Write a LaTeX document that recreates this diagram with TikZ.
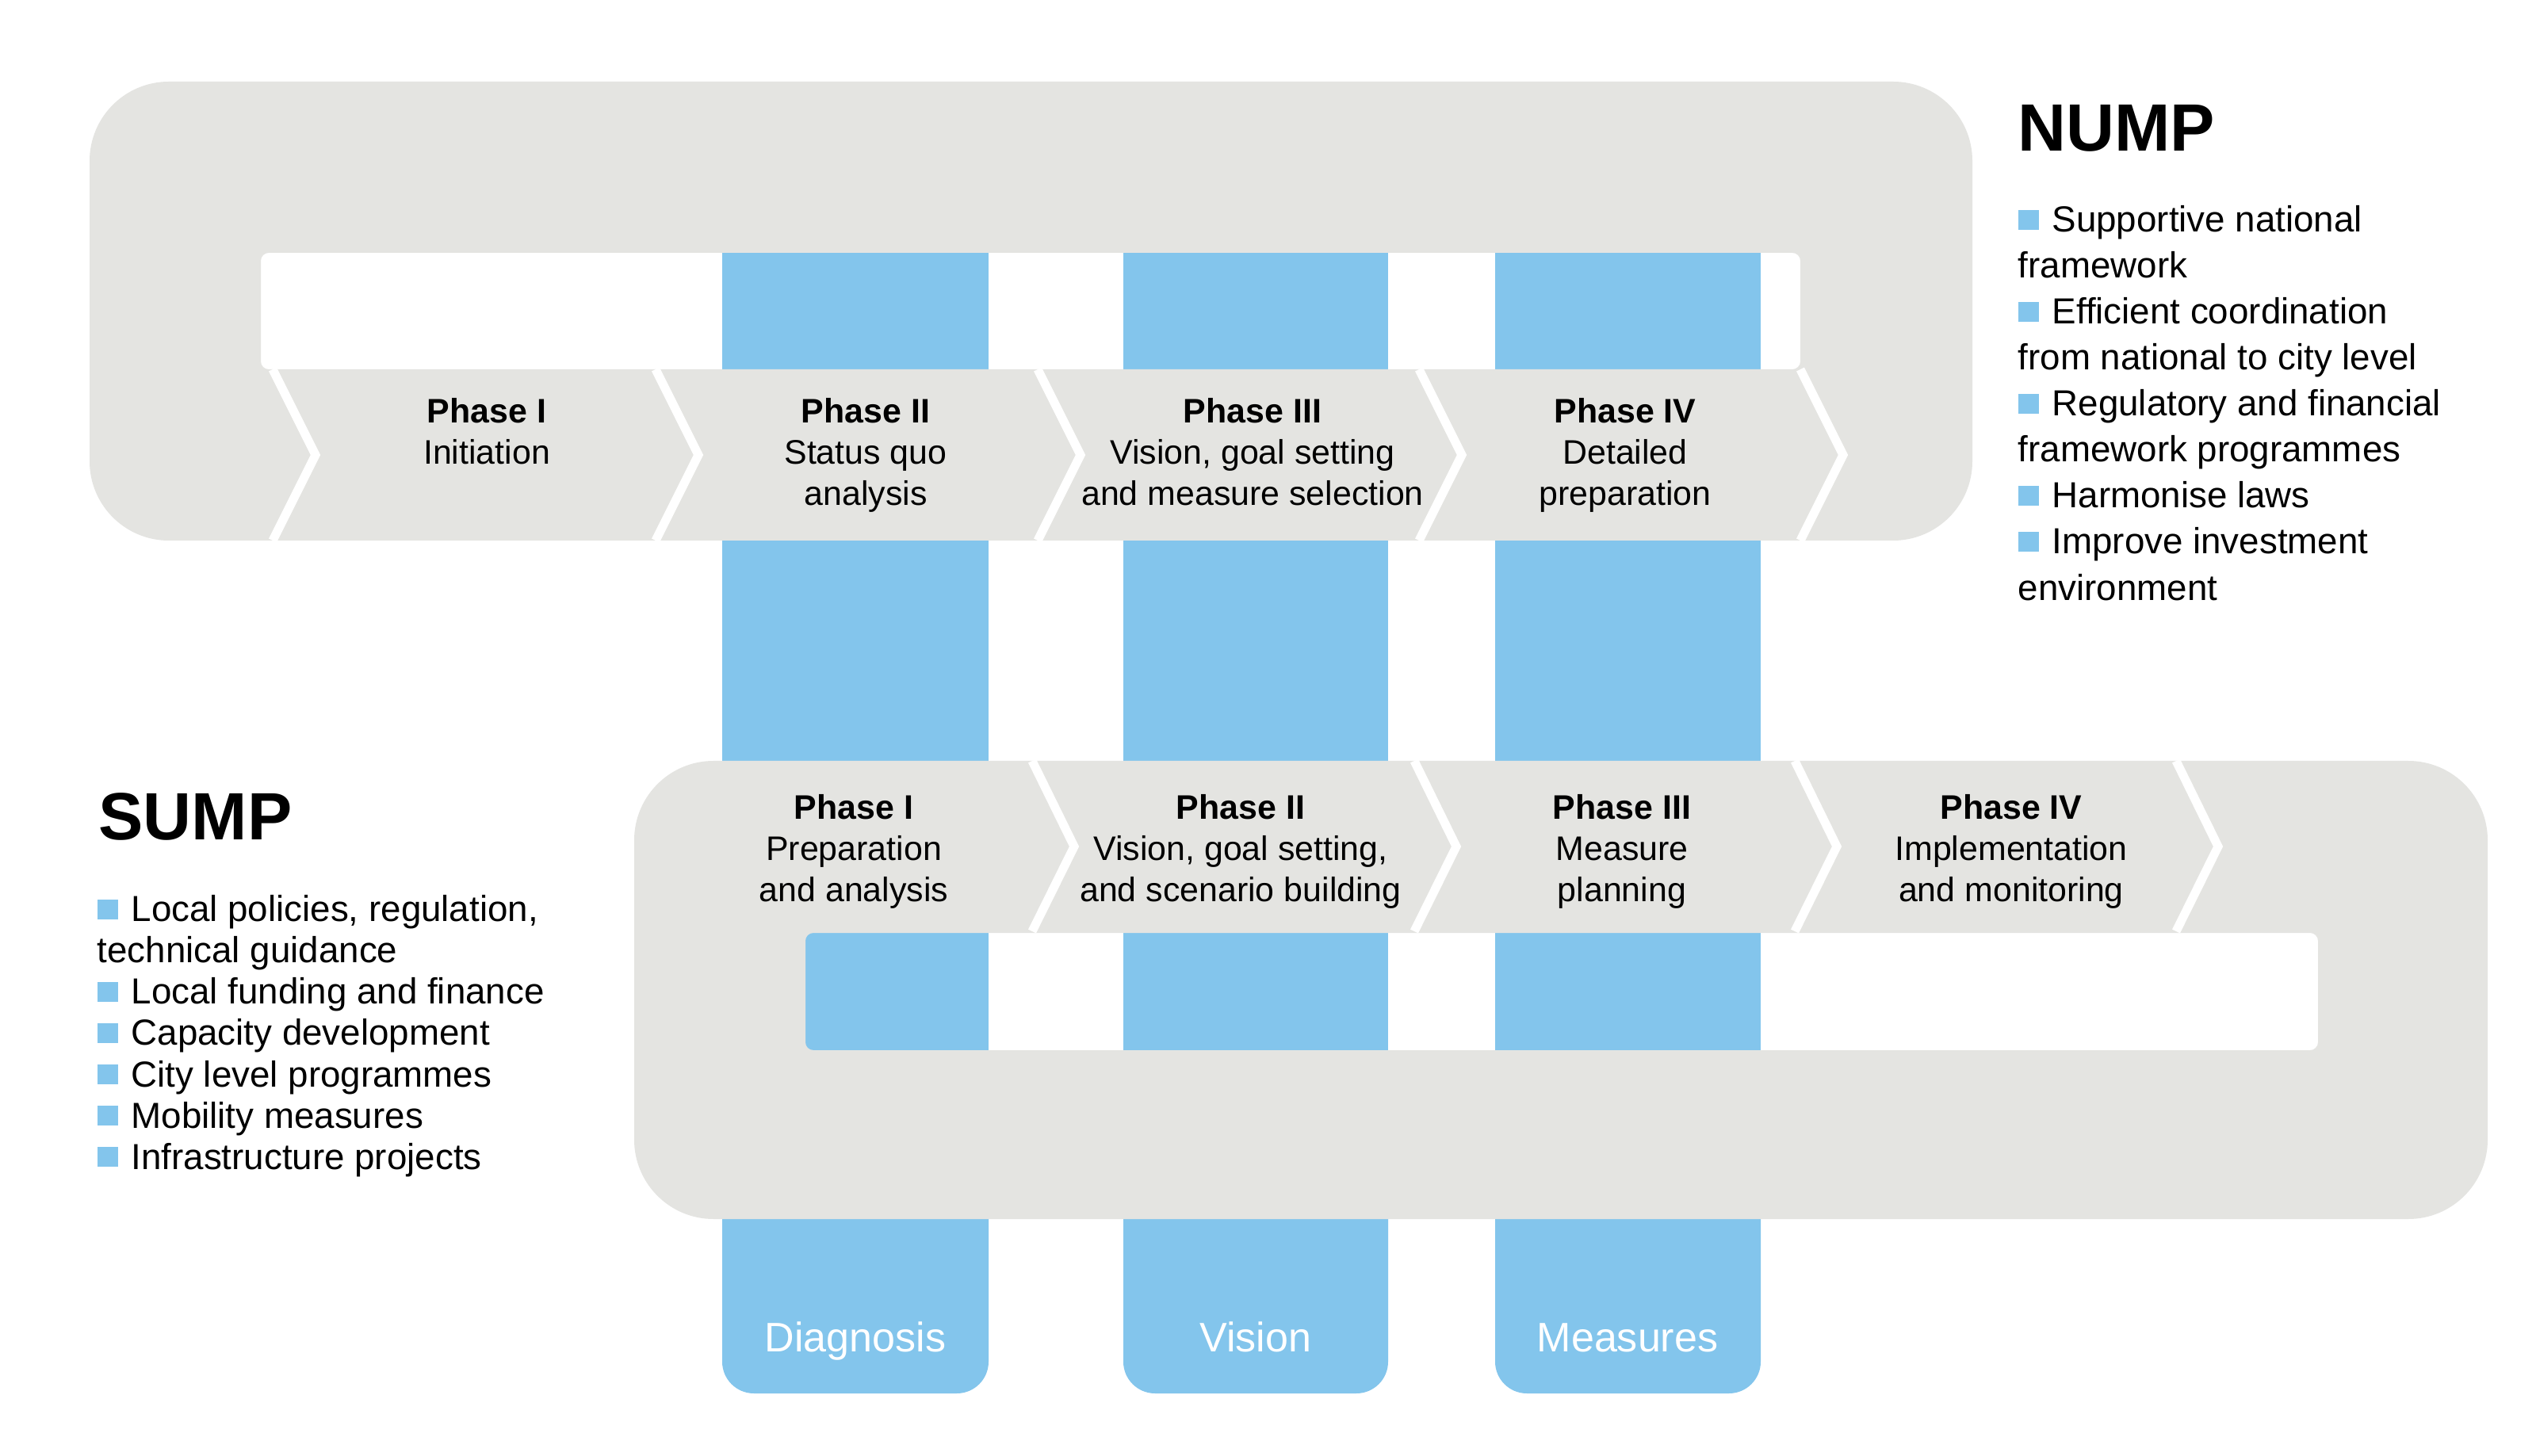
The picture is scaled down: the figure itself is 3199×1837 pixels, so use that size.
\documentclass[tikz,border=0pt]{standalone}
\usepackage{fontspec}
\setmainfont{Liberation Sans}
\definecolor{graybg}{HTML}{E4E4E1}
\definecolor{bluec}{HTML}{83C5EC}
\newcommand\sqbullet{\textcolor{bluec}{\rule[0.8pt]{7.4pt}{7.2pt}}\hspace{4.8pt}}
\begin{document}
\begin{tikzpicture}[x=0.01cm,y=-0.01cm,
  sep/.style={white,line width=0.11cm,line join=miter},
  phase/.style={inner sep=0pt,anchor=north,align=center,font=\fontsize{12.2}{14.8}\selectfont},
  ttl/.style={inner sep=0pt,anchor=base west,font=\fontsize{24}{28}\selectfont\bfseries},
  listtxt/.style={inner sep=0pt,anchor=north west,align=left},
  lbl/.style={inner sep=0pt,anchor=base,text=white,font=\fontsize{14.8}{17}\selectfont}]
\useasboundingbox (0,0) rectangle (3199,1837);
\fill[white] (0,0) rectangle (3199,1837);
% blue columns
\foreach \xa/\xb in {911/1247,1417/1751,1886/2221}{
  \fill[bluec] (\xa,319) rectangle (\xb,1600);
  \fill[bluec,rounded corners=0.4cm] (\xa,1450) rectangle (\xb,1758);
}
% NUMP band
\fill[graybg,even odd rule] [rounded corners=1cm] (113,103) rectangle (2488,682)
  [rounded corners=0.1cm] (329,319) rectangle (2271,466);
% SUMP band
\fill[graybg,even odd rule] [rounded corners=1cm] (800,960) rectangle (3138,1538)
  [rounded corners=0.1cm] (1016,1177) rectangle (2924,1325);
% chevron separators
\foreach \x in {344,827,1309,1790,2271}{
  \draw[sep] (\x,466) -- (\x+54,574) -- (\x,682);
}
\foreach \x in {1302,1784,2264,2745}{
  \draw[sep] (\x,960) -- (\x+53,1068) -- (\x,1175);
}
% NUMP phases
\node[phase] (n1) at (614,502) {\textbf{Phase I}\\Initiation};
\node[phase] (n2) at (1092,502) {\textbf{Phase II}\\Status quo\\analysis};
\node[phase] (n3) at (1580,502) {\textbf{Phase III}\\Vision, goal setting\\and measure selection};
\node[phase] (n4) at (2050,502) {\textbf{Phase IV}\\Detailed\\preparation};
% SUMP phases
\node[phase] (s1) at (1077,1002) {\textbf{Phase I}\\Preparation\\and analysis};
\node[phase] (s2) at (1565,1002) {\textbf{Phase II}\\Vision, goal setting,\\and scenario building};
\node[phase] (s3) at (2046,1002) {\textbf{Phase III}\\Measure\\planning};
\node[phase] (s4) at (2537,1002) {\textbf{Phase IV}\\Implementation\\and monitoring};
% titles
\node[ttl] (nump) at (2545,191) {NUMP};
\node[ttl] (sump) at (124,1060) {SUMP};
% lists
\node[listtxt,font=\fontsize{13}{16.5}\selectfont] (numplist) at (2545,259)
 {\sqbullet Supportive national\\framework\\
  \sqbullet Efficient coordination\\from national to city level\\
  \sqbullet Regulatory and financial\\framework programmes\\
  \sqbullet Harmonise laws\\
  \sqbullet Improve investment\\environment};
\node[listtxt,font=\fontsize{13}{14.8}\selectfont] (sumplist) at (122,1129)
 {\sqbullet Local policies, regulation,\\technical guidance\\
  \sqbullet Local funding and finance\\
  \sqbullet Capacity development\\
  \sqbullet City level programmes\\
  \sqbullet Mobility measures\\
  \sqbullet Infrastructure projects};
% column labels
\node[lbl] (diag) at (1079,1705) {Diagnosis};
\node[lbl] (vis) at (1584,1705) {Vision};
\node[lbl] (meas) at (2053,1705) {Measures};
\end{tikzpicture}
\end{document}
